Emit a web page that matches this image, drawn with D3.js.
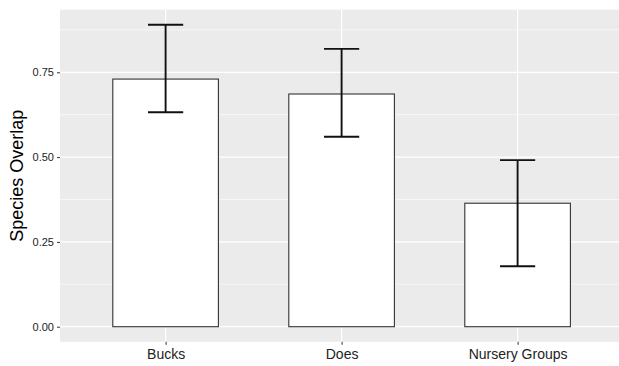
<!DOCTYPE html>
<html>
<head>
<meta charset="utf-8">
<script src="https://cdn.jsdelivr.net/npm/d3@7"></script>
<style>
  body { margin: 0; background: #fff; }
  svg { display: block; font-family: "Liberation Sans", Arial, sans-serif; }
</style>
</head>
<body>
<div id="chart"></div>
<script>
// Drawing area
const w = 619;
const h = 366;
const panelLeft = 60;

// Data
const categories = ["Bucks", "Does", "Nursery Groups"];
const overlap = [0.730, 0.686, 0.364];
const lowerCI = [0.632, 0.560, 0.178];
const upperCI = [0.890, 0.819, 0.491];
const yTicks = [0, 0.25, 0.5, 0.75];
const yMinor = [0.125, 0.375, 0.625, 0.875];

const svg = d3.select("#chart").append("svg")
  .attr("width", w)
  .attr("height", h);

// x is a continuous scale over the category index, like ggplot's discrete axis (expand 0.6)
const xScale = d3.scaleLinear()
  .domain([0.4, 3.6])
  .range([panelLeft, panelLeft + 3.2 * 176]);

const yScale = d3.scaleLinear()
  .domain([-0.0445, 0.9345])
  .range([341.8, 9.7]);

const barWidth = 0.6;
const capWidth = 0.2;

// Panel background
svg.append("rect")
  .attr("x", xScale(0.4))
  .attr("y", yScale(0.9345))
  .attr("width", xScale(3.6) - xScale(0.4))
  .attr("height", yScale(-0.0445) - yScale(0.9345))
  .attr("fill", "#ebebeb");

// Minor grid lines
svg.selectAll(".minor")
  .data(yMinor)
  .enter()
  .append("line")
  .attr("x1", xScale(0.4))
  .attr("x2", xScale(3.6))
  .attr("y1", d => yScale(d))
  .attr("y2", d => yScale(d))
  .attr("stroke", "#fff")
  .attr("stroke-width", 0.6);

// Major grid lines
svg.selectAll(".majorY")
  .data(yTicks)
  .enter()
  .append("line")
  .attr("x1", xScale(0.4))
  .attr("x2", xScale(3.6))
  .attr("y1", d => yScale(d))
  .attr("y2", d => yScale(d))
  .attr("stroke", "#fff")
  .attr("stroke-width", 1.2);

svg.selectAll(".majorX")
  .data(categories)
  .enter()
  .append("line")
  .attr("x1", (d, i) => xScale(i + 1))
  .attr("x2", (d, i) => xScale(i + 1))
  .attr("y1", yScale(0.9345))
  .attr("y2", yScale(-0.0445))
  .attr("stroke", "#fff")
  .attr("stroke-width", 1.2);

// Bars
svg.selectAll(".bar")
  .data(overlap)
  .enter()
  .append("rect")
  .attr("x", (d, i) => xScale(i + 1 - barWidth / 2))
  .attr("y", d => yScale(d))
  .attr("width", xScale(1 + barWidth) - xScale(1))
  .attr("height", d => yScale(0) - yScale(d))
  .attr("fill", "#fff")
  .attr("stroke", "#333")
  .attr("stroke-width", 1.1);

// Error bars
const errors = svg.append("g")
  .attr("stroke", "#111")
  .attr("stroke-width", 1.9);

categories.forEach((c, i) => {
  errors.append("line")
    .attr("x1", xScale(i + 1)).attr("x2", xScale(i + 1))
    .attr("y1", yScale(lowerCI[i])).attr("y2", yScale(upperCI[i]));
  [lowerCI[i], upperCI[i]].forEach(v => {
    errors.append("line")
      .attr("x1", xScale(i + 1 - capWidth / 2)).attr("x2", xScale(i + 1 + capWidth / 2))
      .attr("y1", yScale(v)).attr("y2", yScale(v));
  });
});

// Axes
const yAxis = d3.axisLeft(yScale)
  .tickValues(yTicks)
  .tickFormat(d3.format(".2f"))
  .tickSize(3)
  .tickPadding(3);

const gy = svg.append("g")
  .attr("transform", `translate(${panelLeft},0)`)
  .call(yAxis);
gy.select(".domain").remove();
gy.selectAll(".tick line").attr("stroke", "#333");
gy.selectAll(".tick text")
  .attr("fill", "#222")
  .style("font-size", "11px")
  .style("font-family", "'Liberation Sans', Arial, sans-serif");

const xAxis = d3.axisBottom(xScale)
  .tickValues([1, 2, 3])
  .tickFormat(d => categories[d - 1])
  .tickSize(3)
  .tickPadding(4);

const gx = svg.append("g")
  .attr("transform", `translate(0,${yScale(-0.0445)})`)
  .call(xAxis);
gx.select(".domain").remove();
gx.selectAll(".tick line").attr("stroke", "#333");
gx.selectAll(".tick text")
  .attr("fill", "#222")
  .style("font-size", "14px")
  .style("font-family", "'Liberation Sans', Arial, sans-serif");

// Axis title
svg.append("text")
  .attr("transform", `translate(23,${(yScale(0.9345) + yScale(-0.0445)) / 2}) rotate(-90)`)
  .style("text-anchor", "middle")
  .style("font-size", "18px")
  .attr("fill", "#000")
  .text("Species Overlap");
</script>
</body>
</html>
